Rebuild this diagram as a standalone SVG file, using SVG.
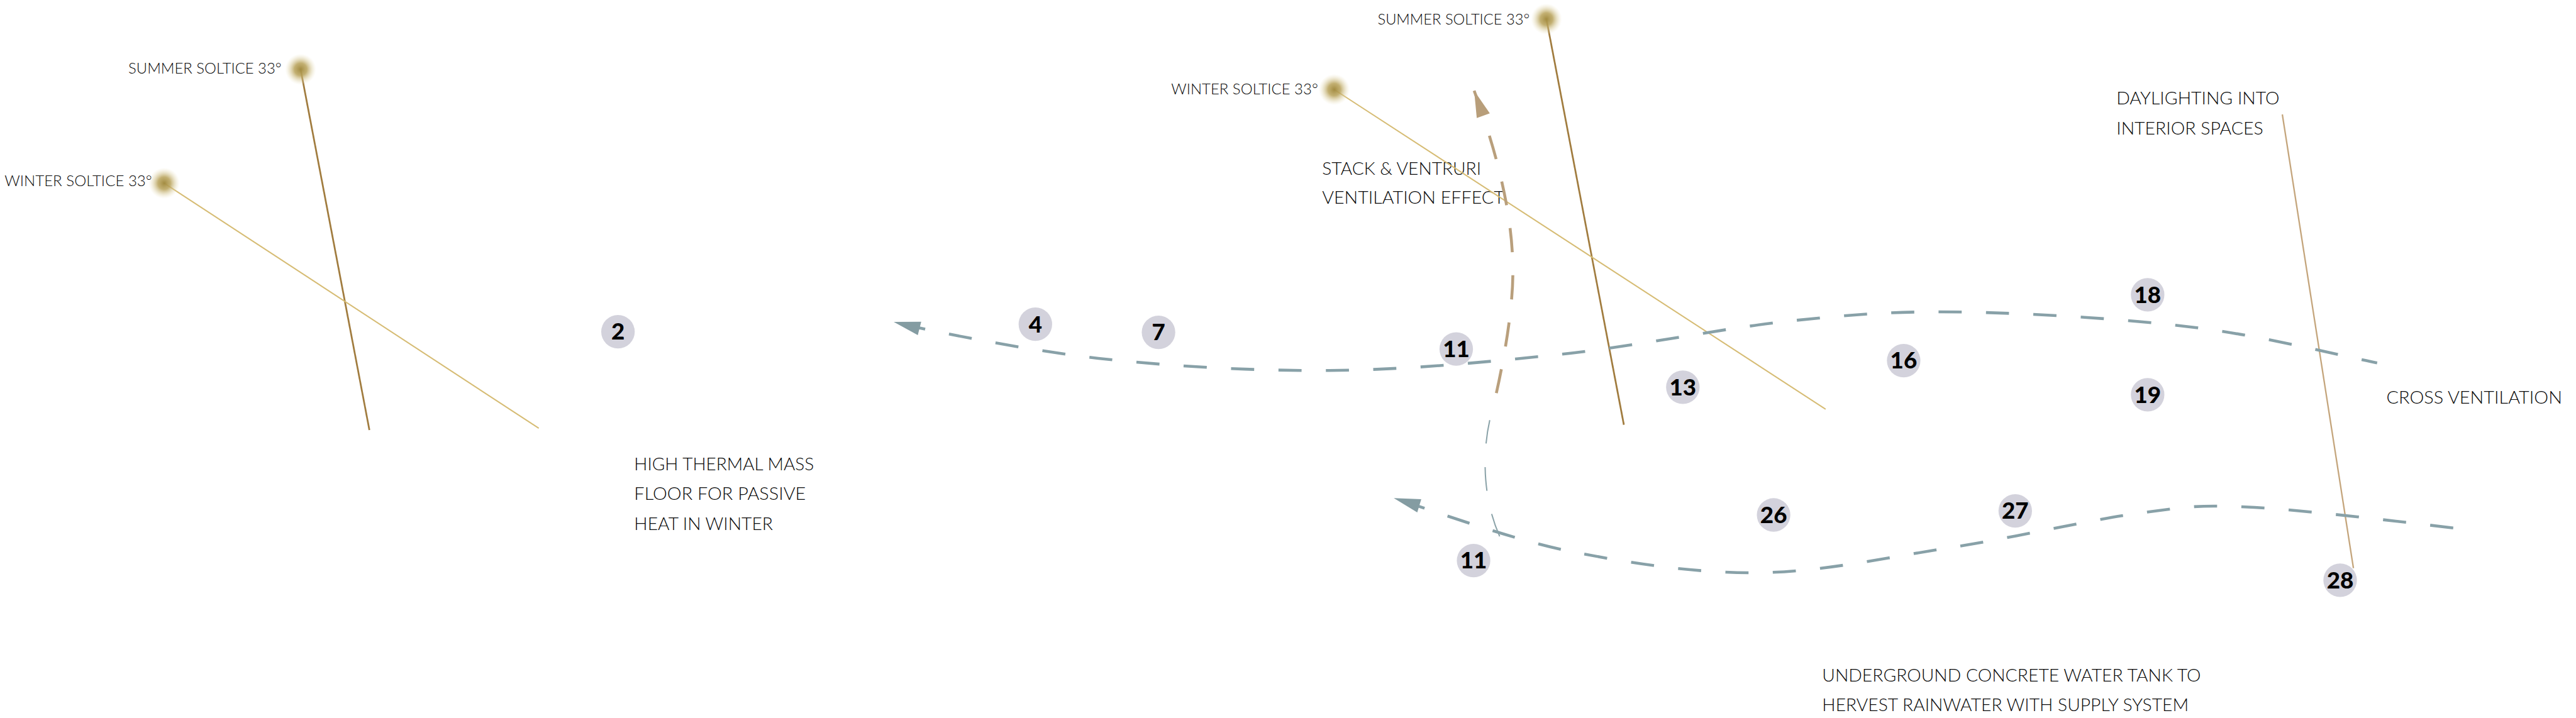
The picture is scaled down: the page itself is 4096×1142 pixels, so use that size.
<svg xmlns="http://www.w3.org/2000/svg" width="4096" height="1142" viewBox="0 0 4096 1142">
<style>
.lbl{font-family:Lato,"Open Sans","Liberation Sans",sans-serif;font-weight:300;fill:#0a0a0a}
.s25{font-size:25px}
.s29{font-size:29px}
.num{font-family:Lato,"Liberation Sans",sans-serif;font-weight:900;font-size:40px;fill:#000;text-anchor:middle}
.dot{fill:#d3d2dc}
.blue{fill:none;stroke:#88a1a8;stroke-width:5;stroke-dasharray:40 42}
.brown{fill:none;stroke:#b99f7c;stroke-width:5;stroke-dasharray:42 40}
.thin{fill:none;stroke:#8aa2a8;stroke-width:2.2;stroke-dasharray:41 41}
.summer{stroke:#a17c3f;stroke-width:3}
.winter{stroke:#d6bc74;stroke-width:2.2}
.day{stroke:#c4a57c;stroke-width:2.5}
</style>
<defs>
<radialGradient id="sun">
<stop offset="0" stop-color="#a38c42"/>
<stop offset="0.4" stop-color="#b8a25a" stop-opacity="0.85"/>
<stop offset="1" stop-color="#ebe2bd" stop-opacity="0"/>
</radialGradient>
<marker id="ab" markerUnits="userSpaceOnUse" markerWidth="60" markerHeight="40" refX="46" refY="20" orient="auto-start-reverse" overflow="visible">
<path d="M0,8 L46,20 L0,32 Z" fill="#849ca2"/>
</marker>
<marker id="aw" markerUnits="userSpaceOnUse" markerWidth="60" markerHeight="40" refX="46" refY="20" orient="auto-start-reverse" overflow="visible">
<path d="M0,8 L46,20 L0,32 Z" fill="#b89e7a"/>
</marker>
</defs>
<rect width="4096" height="1142" fill="#fff"/>
<g transform="scale(0.91921)">
<g id="labels">
<text id="t-summer1" class="lbl s25" x="222" y="127" textLength="265" lengthAdjust="spacingAndGlyphs">SUMMER SOLTICE 33°</text>
<text id="t-winter1" class="lbl s25" x="8" y="322" textLength="255" lengthAdjust="spacingAndGlyphs">WINTER SOLTICE 33°</text>
<text id="t-summer2" class="lbl s25" x="2383" y="42" textLength="263" lengthAdjust="spacingAndGlyphs">SUMMER SOLTICE 33°</text>
<text id="t-winter2" class="lbl s25" x="2026" y="163" textLength="254" lengthAdjust="spacingAndGlyphs">WINTER SOLTICE 33°</text>
<g id="t-stack">
<text class="lbl s29" x="2287" y="302" textLength="275" lengthAdjust="spacingAndGlyphs">STACK &amp; VENTRURI</text>
<text class="lbl s29" x="2287" y="353" textLength="315" lengthAdjust="spacingAndGlyphs">VENTILATION EFFECT</text>
</g>
<g id="t-thermal">
<text class="lbl s29" x="1097" y="814" textLength="311" lengthAdjust="spacingAndGlyphs">HIGH THERMAL MASS</text>
<text class="lbl s29" x="1097" y="865" textLength="297" lengthAdjust="spacingAndGlyphs">FLOOR FOR PASSIVE</text>
<text class="lbl s29" x="1097" y="917" textLength="240" lengthAdjust="spacingAndGlyphs">HEAT IN WINTER</text>
</g>
<g id="t-daylight">
<text class="lbl s29" x="3661" y="181" textLength="282" lengthAdjust="spacingAndGlyphs">DAYLIGHTING INTO</text>
<text class="lbl s29" x="3661" y="233" textLength="254" lengthAdjust="spacingAndGlyphs">INTERIOR SPACES</text>
</g>
<text id="t-cross" class="lbl s29" x="4128" y="698" textLength="304" lengthAdjust="spacingAndGlyphs">CROSS VENTILATION</text>
<g id="t-tank">
<text class="lbl s29" x="3152" y="1179" textLength="655" lengthAdjust="spacingAndGlyphs">UNDERGROUND CONCRETE WATER TANK TO</text>
<text class="lbl s29" x="3152" y="1230" textLength="634" lengthAdjust="spacingAndGlyphs">HERVEST RAINWATER WITH SUPPLY SYSTEM</text>
</g>
</g>
<g id="connectors">
<line class="summer" x1="520" y1="120" x2="639" y2="744"/>
<line class="winter" x1="284" y1="317" x2="932" y2="741"/>
<line class="summer" x1="2675" y1="33" x2="2809" y2="735"/>
<line class="winter" x1="2308" y1="155" x2="3158" y2="708"/>
<line class="day" x1="3948" y1="198" x2="4071" y2="983"/>
<path class="blue" marker-start="url(#ab)" stroke-dashoffset="66" d="M1546,557 C1605,572 1774,606 1900,620 C2026,634 2167,642 2300,641 C2433,640 2567,627 2700,613 C2833,599 2983,567 3100,555 C3217,543 3283,538 3400,540 C3517,542 3681,552 3800,567 C3919,582 4060,618 4112,628"/>
<path class="blue" marker-start="url(#ab)" stroke-dasharray="41 44" stroke-dashoffset="66" d="M2411,862 C2461,877 2606,931 2711,953 C2816,974 2930,992 3040,991 C3150,990 3261,965 3371,948 C3481,931 3612,900 3700,888 C3788,876 3804,873 3900,878 C3996,883 4214,910 4280,918"/>
<path class="brown" marker-start="url(#aw)" d="M2550,157 C2595,280 2617,380 2617,470 C2617,540 2600,630 2586,691"/>
<path class="thin" d="M2577,727 C2565,780 2563,860 2595,930"/>
</g>
<g id="suns">
<circle id="sun-summer1" cx="520" cy="120" r="27" fill="url(#sun)"/>
<circle id="sun-winter1" cx="284" cy="317" r="27" fill="url(#sun)"/>
<circle id="sun-summer2" cx="2675" cy="33" r="27" fill="url(#sun)"/>
<circle id="sun-winter2" cx="2308" cy="155" r="27" fill="url(#sun)"/>
</g>
<g id="node-2"><circle class="dot" cx="1069" cy="574" r="29"/><text class="num" x="1069" y="588">2</text></g>
<g id="node-4"><circle class="dot" cx="1791" cy="561" r="29"/><text class="num" x="1791" y="575">4</text></g>
<g id="node-7"><circle class="dot" cx="2004" cy="575" r="29"/><text class="num" x="2004" y="589">7</text></g>
<g id="node-11a"><circle class="dot" cx="2519" cy="604" r="29"/><text class="num" x="2519" y="618">11</text></g>
<g id="node-13"><circle class="dot" cx="2911" cy="670" r="29"/><text class="num" x="2911" y="684">13</text></g>
<g id="node-16"><circle class="dot" cx="3293" cy="624" r="29"/><text class="num" x="3293" y="638">16</text></g>
<g id="node-18"><circle class="dot" cx="3715" cy="510" r="29"/><text class="num" x="3715" y="524">18</text></g>
<g id="node-19"><circle class="dot" cx="3715" cy="683" r="29"/><text class="num" x="3715" y="697">19</text></g>
<g id="node-26"><circle class="dot" cx="3068" cy="891" r="29"/><text class="num" x="3068" y="905">26</text></g>
<g id="node-27"><circle class="dot" cx="3486" cy="884" r="29"/><text class="num" x="3486" y="898">27</text></g>
<g id="node-28"><circle class="dot" cx="4048" cy="1004" r="29"/><text class="num" x="4048" y="1018">28</text></g>
<g id="node-11b"><circle class="dot" cx="2549" cy="970" r="29"/><text class="num" x="2549" y="984">11</text></g>
</g>
</svg>
